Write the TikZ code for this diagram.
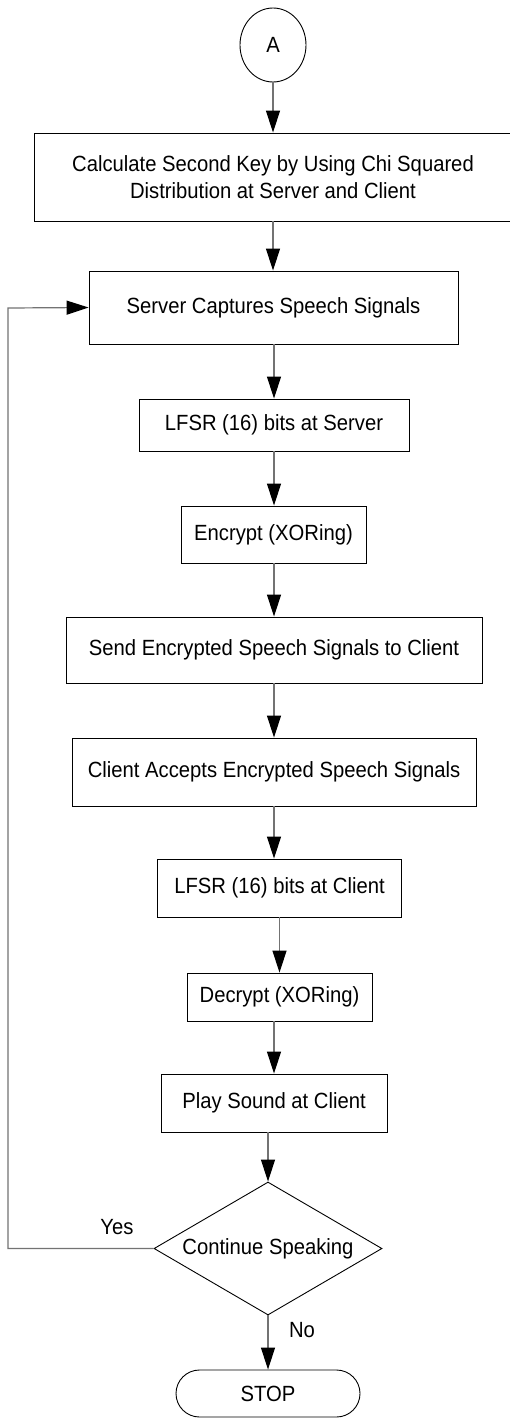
\documentclass[tikz,border=0pt]{standalone}
\usepackage{fontspec}
\setmainfont{Liberation Sans}[FakeStretch=0.92]
\usetikzlibrary{arrows.meta,shapes.geometric}
\begin{document}
\begin{tikzpicture}[x=1pt,y=-1pt,
  every node/.style={font=\fontsize{22}{26.5}\selectfont, text=black},
  box/.style={draw=black, line width=0.9pt, rectangle, inner sep=0pt, align=center},
  conn/.style={draw=black!55, line width=1.2pt, -{Triangle[length=22pt,width=14pt,color=black,fill=black]}},
  lbl/.style={inner sep=0pt}]
\fill[white] (0,0) rectangle (509,1418);
\useasboundingbox (0,0) rectangle (509,1418);
\node[draw=black, line width=0.9pt, ellipse, inner sep=0pt, minimum width=66pt, minimum height=74pt] (A) at (273,45) {A};
\node[box, minimum width=478pt, minimum height=88pt] (b1) at (273,177) {Calculate Second Key by Using Chi Squared\\Distribution at Server and Client};
\node[box, minimum width=369pt, minimum height=73pt] (b2) at (273.5,307.5) {Server Captures Speech Signals};
\node[box, minimum width=270pt, minimum height=52pt] (b3) at (274,425) {LFSR (16) bits at Server};
\node[box, minimum width=185pt, minimum height=57pt] (b4) at (273.5,534.5) {Encrypt (XORing)};
\node[box, minimum width=416pt, minimum height=66pt] (b5) at (274,650) {Send Encrypted Speech Signals to Client};
\node[box, minimum width=404pt, minimum height=68pt] (b6) at (274,772) {Client Accepts Encrypted Speech Signals};
\node[box, minimum width=244pt, minimum height=58pt] (b7) at (279.5,888) {LFSR (16) bits at Client};
\node[box, minimum width=185pt, minimum height=48pt] (b8) at (279.5,997) {Decrypt (XORing)};
\node[box, minimum width=226pt, minimum height=58pt] (b9) at (274,1103) {Play Sound at Client};
\node[draw=black, line width=0.9pt, diamond, aspect=1.71, inner sep=0pt, minimum width=228pt, minimum height=133pt] (d) at (268,1248.5) {Continue Speaking};
\node[box, rounded corners=23.5pt, minimum width=184pt, minimum height=47pt] (stop) at (268,1393.5) {STOP};
\node[lbl] (yes) at (117,1227) {Yes};
\node[lbl] (no) at (302,1330) {No};
\coordinate (lt) at (8,308);
\draw[conn] (A.south) -- (b1.north);
\draw[conn] (b1.south) -- (b1.south |- b2.north);
\draw[conn] (b3.north |- b2.south) -- (b3.north);
\draw[conn] (b3.south) -- (b3.south |- b4.north);
\draw[conn] (b4.south -| b5.north) -- (b5.north);
\draw[conn] (b5.south) -- (b6.north);
\draw[conn] (b6.south) -- (b6.south |- b7.north);
\draw[conn] (b7.south) -- (b8.north);
\draw[conn] (b9.north |- b8.south) -- (b9.north);
\draw[conn] (d.north |- b9.south) -- (d.north);
\draw[conn] (d.south) -- (stop.north);
\draw[conn] (d.west) -| (lt) -- (b2.west);
\end{tikzpicture}
\end{document}
